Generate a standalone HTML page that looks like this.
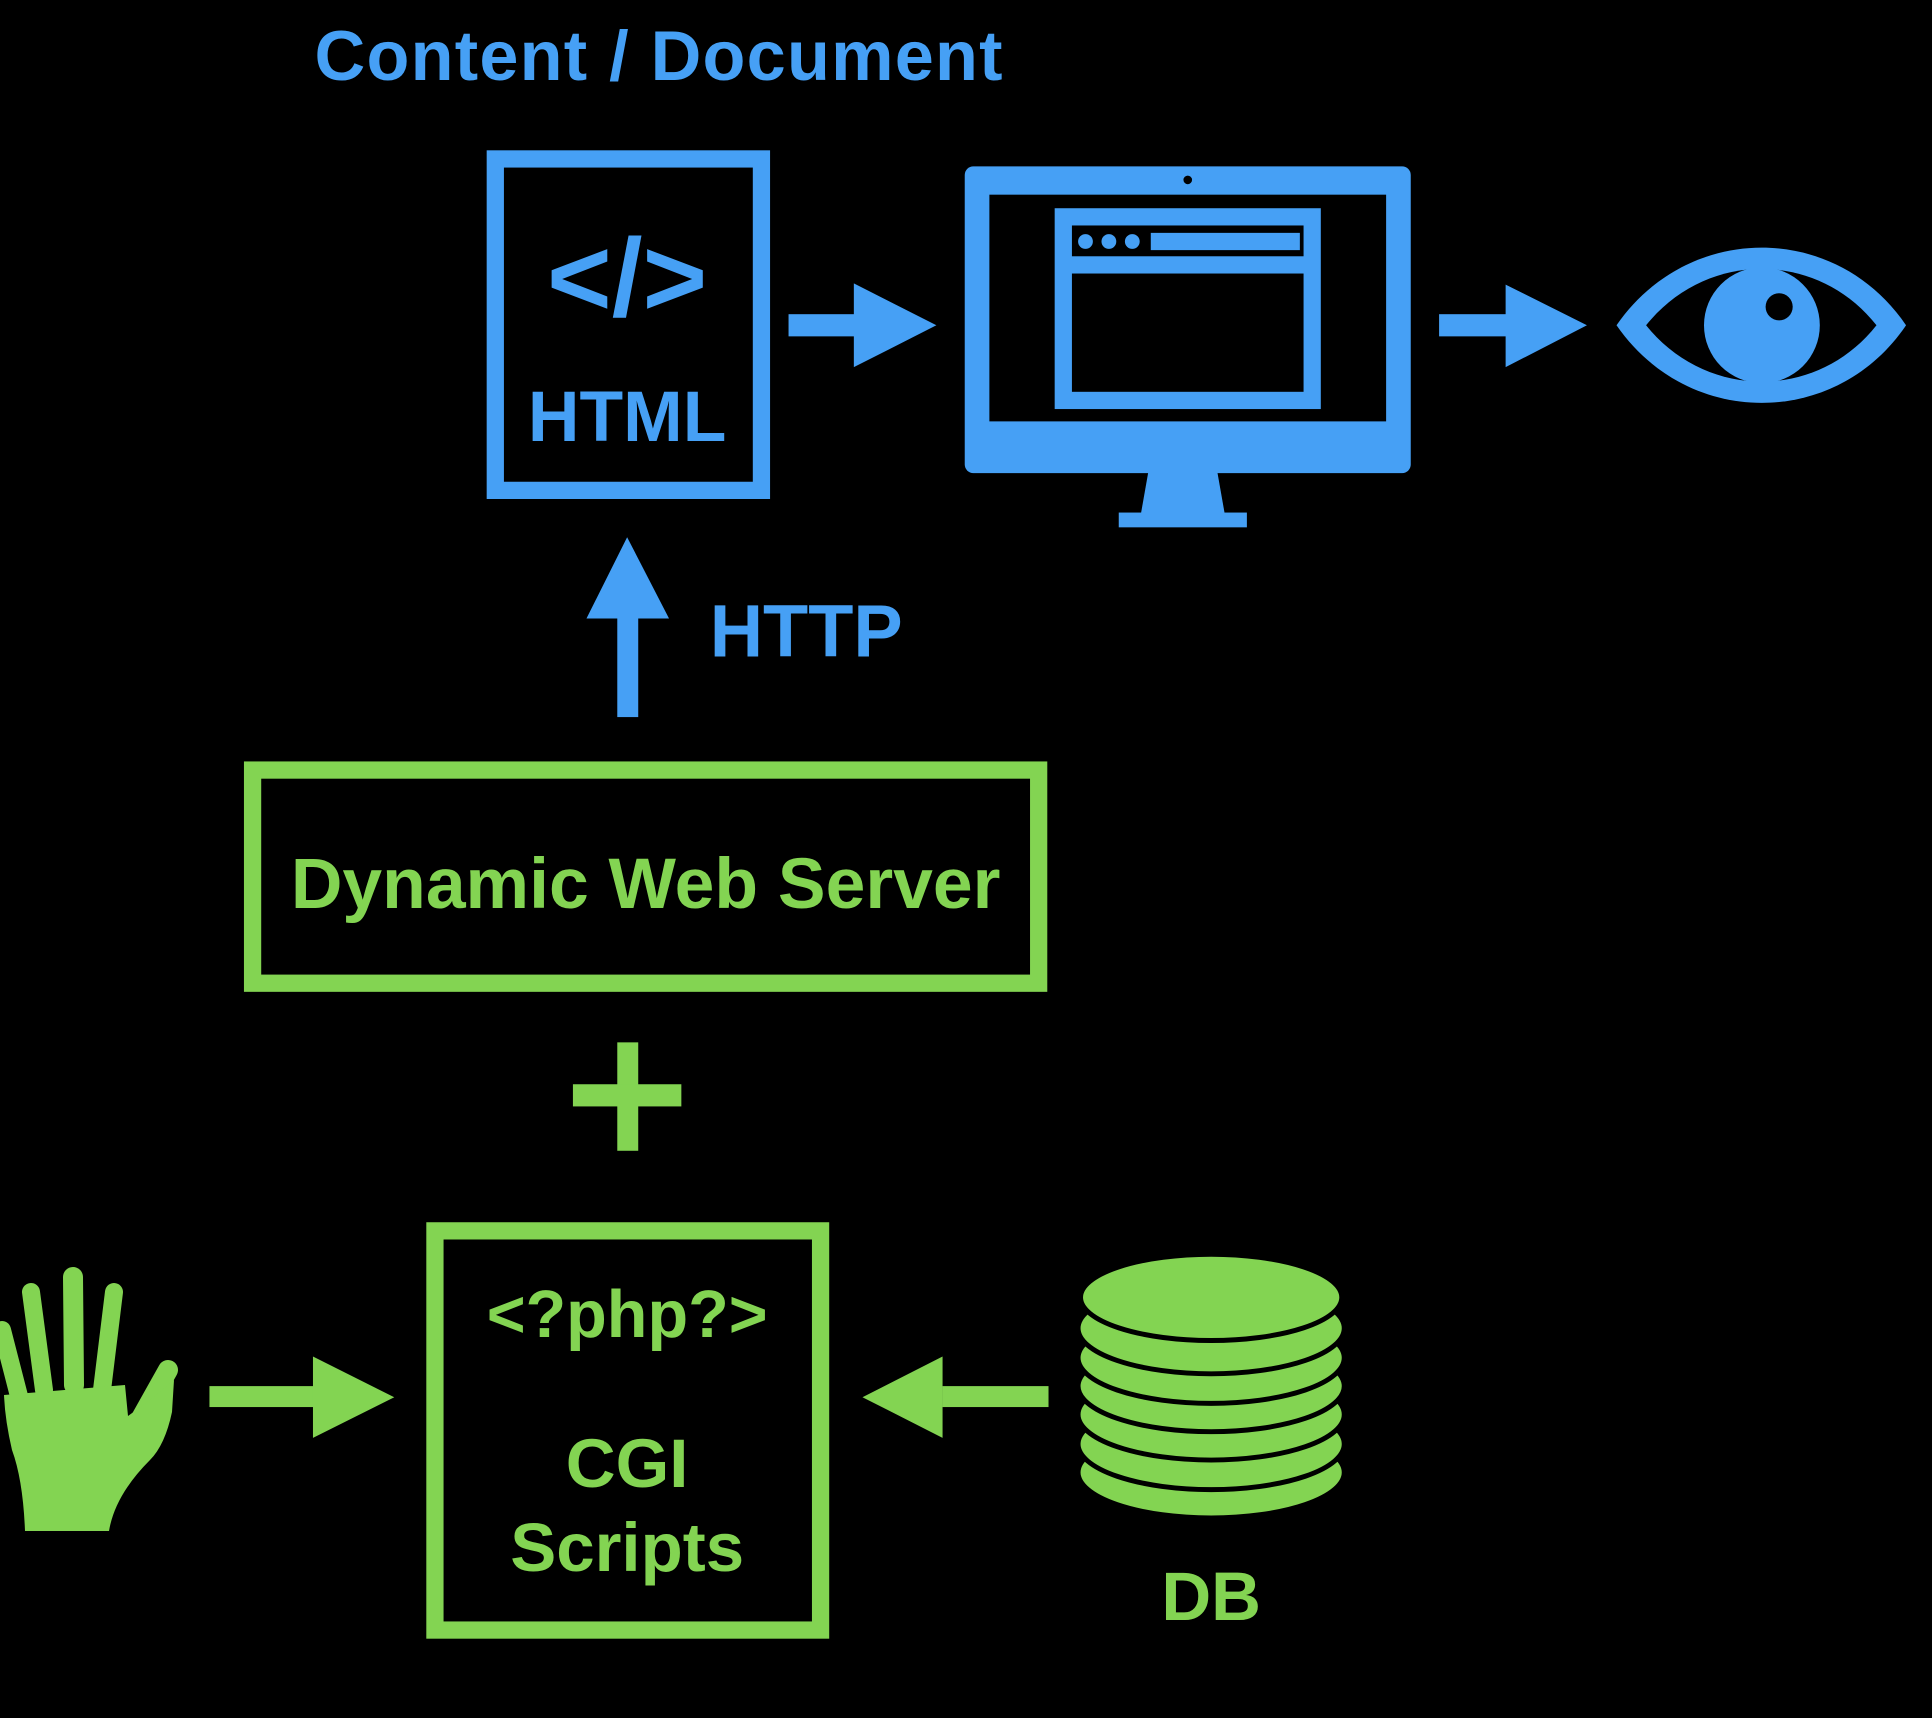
<!DOCTYPE html>
<html><head><meta charset="utf-8"><style>
html,body{margin:0;padding:0;background:#000;}
svg{display:block}
text{font-family:"Liberation Sans",Arial,sans-serif;font-weight:bold}
</style></head><body>
<svg width="1932" height="1718" viewBox="0 0 1932 1718" xmlns="http://www.w3.org/2000/svg">
<rect width="1932" height="1718" fill="#000"/>
<g transform="scale(1.2321)">
<g fill="#46a0f5">
<text x="535" y="65" font-size="57" text-anchor="middle" letter-spacing="1">Content / Document</text>
<rect x="402" y="129" width="216" height="269" fill="none" stroke="#46a0f5" stroke-width="14"/>
<text x="509" y="256" font-size="90" text-anchor="middle">&lt;/&gt;</text>
<text x="509" y="358" font-size="58" text-anchor="middle">HTML</text>
<rect x="640" y="255" width="56" height="18"/>
<polygon points="693,230 760,264 693,298"/>
<rect x="783" y="135" width="362" height="249" rx="7"/>
<rect x="803" y="158" width="322" height="184" fill="#000"/>
<circle cx="964" cy="146" r="3.5" fill="#000"/>
<polygon points="932,383 988,383 994,417 926,417"/>
<rect x="908" y="416" width="104" height="12"/>
<rect x="856" y="169" width="216" height="163"/>
<rect x="870" y="183" width="188" height="25" fill="#000"/>
<circle cx="881" cy="196" r="6"/><circle cx="900" cy="196" r="6"/><circle cx="919" cy="196" r="6"/>
<rect x="934" y="189" width="121" height="14"/>
<rect x="870" y="222" width="188" height="96" fill="#000"/>
<rect x="1168" y="255" width="56" height="18"/>
<polygon points="1222,231 1288,264 1222,298"/>
<path d="M1312,264 C1370,180 1490,180 1547,264 C1490,348 1370,348 1312,264 Z"/>
<path d="M1336,264 C1385,203 1475,203 1523,264 C1475,325 1385,325 1336,264 Z" fill="#000"/>
<circle cx="1430" cy="264" r="47"/>
<circle cx="1444" cy="249" r="11" fill="#000"/>
<rect x="501" y="500" width="17" height="82"/>
<polygon points="476,502 509,436 543,502"/>
<text x="576" y="533" font-size="60">HTTP</text>
</g>
<g fill="#83d452">
<rect x="205" y="625" width="638" height="173" fill="none" stroke="#83d452" stroke-width="14"/>
<text x="524" y="737" font-size="58" text-anchor="middle">Dynamic Web Server</text>
<rect x="501" y="846" width="17" height="88"/>
<rect x="465" y="880" width="88" height="18"/>
<rect x="353" y="999" width="313" height="324" fill="none" stroke="#83d452" stroke-width="14"/>
<text x="509" y="1085" font-size="54" text-anchor="middle">&lt;?php?&gt;</text>
<text x="509" y="1207" font-size="56" text-anchor="middle">CGI</text>
<text x="509" y="1275" font-size="56" text-anchor="middle">Scripts</text>
<rect x="170" y="1125" width="86" height="17"/>
<polygon points="254,1101 320,1134 254,1167"/>
<rect x="765" y="1125" width="86" height="17"/>
<polygon points="765,1101 700,1134 765,1167"/>
<g stroke="#000" stroke-width="4">
<ellipse cx="983" cy="1195" rx="108" ry="37"/>
<ellipse cx="983" cy="1172" rx="108" ry="37"/>
<ellipse cx="983" cy="1148" rx="108" ry="37"/>
<ellipse cx="983" cy="1125" rx="108" ry="37"/>
<ellipse cx="983" cy="1102" rx="108" ry="37"/>
<ellipse cx="983" cy="1078" rx="108" ry="37"/>
<ellipse cx="983" cy="1053" rx="106" ry="35"/>
</g>
<text x="983" y="1315" font-size="56" text-anchor="middle">DB</text>
</g>
</g>
<g fill="#83d452" stroke="#83d452" stroke-linecap="round">
<line x1="2" y1="1330" x2="20" y2="1400" stroke-width="18"/>
<line x1="31" y1="1292" x2="44" y2="1390" stroke-width="18"/>
<line x1="73" y1="1277" x2="74" y2="1385" stroke-width="20"/>
<line x1="114" y1="1292" x2="102" y2="1390" stroke-width="18"/>
<line x1="168" y1="1370" x2="140" y2="1420" stroke-width="20"/>
<path stroke="none" d="M4,1395 L125,1385 L128,1416 L150,1400 L174,1380 L172,1412 Q165,1445 150,1460 Q115,1495 109,1531 L25,1531 Q23,1480 12,1450 Q5,1420 4,1395 Z"/>
</g>
</svg>
</body></html>
